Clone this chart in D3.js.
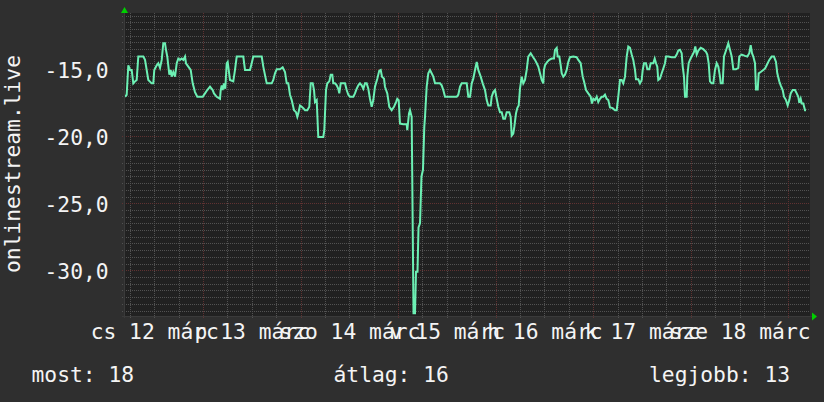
<!DOCTYPE html>
<html><head><meta charset="utf-8">
<script src="https://cdn.jsdelivr.net/npm/d3@7"></script>
<style>
html,body{margin:0;padding:0;background:#2f2f2f;}
svg{display:block;}
text{font-family:"DejaVu Sans Mono",monospace;fill:#f4f4f4;}
</style></head><body>
<svg id="chart" width="824" height="402"></svg>
<script>
// hours since 2020-03-12 00:00 (UTC)
const hours = [
4.81,5.22,5.62,6.04,6.45,6.85,7.27,7.68,8.08,9.31,9.73,10.54,11.37,11.77,12.01,12.61,13.00,13.42,13.84,14.23,
14.65,14.89,15.21,15.71,16.05,16.30,16.69,17.11,17.53,17.92,18.34,18.76,19.15,19.57,19.81,20.38,20.97,21.46,22.03,22.59,
23.92,24.49,25.05,25.72,26.38,26.70,27.37,28.18,28.35,28.60,28.84,29.16,29.48,29.83,30.07,30.32,30.64,31.45,31.87,32.29,
33.91,34.33,35.56,35.98,36.37,38.44,38.83,39.67,40.90,41.29,41.71,42.13,42.94,43.60,44.17,44.59,44.98,45.40,45.82,46.39,
46.88,47.20,47.44,47.86,48.28,48.67,49.09,49.66,50.15,50.49,50.99,51.31,51.55,51.97,52.36,53.59,53.84,54.26,54.58,55.07,
55.42,55.81,56.05,56.47,56.89,57.28,57.53,57.88,58.93,59.35,59.75,60.16,60.98,61.39,61.81,62.21,62.62,63.04,63.44,63.85,
64.27,64.67,65.08,65.50,65.90,66.31,66.88,67.37,67.72,68.04,68.53,68.77,69.34,69.83,70.42,70.99,71.48,71.80,72.14,72.46,
73.28,74.11,74.26,74.68,74.93,75.34,75.79,76.16,76.40,76.77,77.02,77.39,77.75,78.12,78.44,78.62,79.03,79.43,79.85,80.66,
81.08,82.31,82.72,83.12,83.54,86.41,86.81,87.23,87.65,88.46,88.88,89.27,89.69,90.11,90.50,90.92,91.34,91.73,92.32,92.81,
93.38,93.80,94.19,94.78,95.03,95.42,95.84,96.26,96.65,97.07,97.49,97.88,98.30,98.72,99.36,99.70,99.95,100.34,100.59,101.00,
101.32,101.67,101.99,102.41,102.80,103.22,103.64,104.03,104.62,105.11,105.68,106.10,106.49,106.91,107.33,107.72,107.89,108.14,108.70,109.20,
109.79,110.35,110.60,111.02,111.26,111.66,112.00,112.25,112.64,113.06,113.48,113.87,114.29,115.10,115.94,116.33,116.92,117.41,117.73,118.23,
118.79,119.38,119.70,120.02,120.44,120.86,121.25,121.67,122.09,122.48,122.90,123.32,123.71,124.13,124.79,125.36,125.78,126.17,126.59,127.01,
127.40,127.82,128.24,128.63,129.05,129.47,129.86,130.28,130.53,131.09,131.51,131.93,132.18,132.50,132.99,133.31,133.80,134.14,134.78,135.13,
135.45,135.77,136.01,136.43,136.85,137.24,137.66,137.91,138.47,139.31,140.12,140.54,140.93,141.35,141.77,142.02,142.34,142.58,143.00,143.15,
143.49,143.81,144.23,144.80,145.12,145.46,145.86,146.45,147.09,147.75,148.07,148.41,148.73,149.15,149.55,149.96,150.38,150.78,151.19,151.37,
151.86,152.18,152.67,153.24,153.65,154.07,154.47,155.13,155.70,155.94,156.53,157.35,157.91,158.40,158.75,159.07,159.39,159.81,160.05,160.47,
160.72,161.21,161.85,162.27,162.68,163.32,163.92,164.48,164.97,165.29,165.78,166.13,166.62,166.94,167.43,167.85,168.25,168.59,169.08,169.65,
170.07,170.46,170.71,171.05,171.30,171.69,172.11,172.35
];
const values = [
-17.05,-16.9,-14.7,-15.05,-15.05,-16.05,-15.9,-15.8,-14.05,-14.05,-14.3,-15.8,-16.05,-16.05,-15.05,-14.7,-14.55,-14.9,-14.3,-13.05,
-13.05,-13.55,-14.05,-15.4,-15.05,-15.55,-15.2,-15.55,-14.55,-14.2,-14.3,-14.2,-14.3,-14.05,-14.55,-14.8,-15.05,-16.05,-16.7,-17.05,
-17.05,-16.8,-16.55,-16.3,-16.55,-16.8,-17.05,-17.2,-16.55,-16.2,-16.55,-16.05,-16.45,-14.55,-14.45,-15.05,-15.8,-15.9,-15.05,-14.05,
-14.05,-15.05,-15.05,-14.55,-14.05,-14.05,-14.8,-16.05,-16.05,-15.8,-15.3,-15.0,-15.0,-14.85,-15.2,-16.05,-16.05,-16.9,-17.3,-18.05,
-18.2,-18.55,-18.3,-17.7,-17.8,-17.9,-18.05,-18.05,-17.8,-16.05,-16.05,-16.55,-17.45,-17.3,-20.05,-20.05,-19.55,-16.55,-16.05,-15.9,
-15.4,-15.4,-16.05,-16.05,-16.2,-16.45,-16.8,-16.05,-16.05,-16.55,-16.9,-17.05,-17.05,-16.8,-16.45,-16.2,-16.05,-16.2,-16.45,-16.05,
-16.05,-16.45,-17.2,-17.8,-17.3,-16.3,-15.7,-15.1,-15.05,-15.55,-15.7,-16.3,-16.8,-17.8,-18.05,-17.8,-17.45,-17.2,-17.3,-19.05,
-19.1,-19.1,-19.55,-18.3,-18.05,-18.55,-33.2,-33.2,-30.1,-30.1,-26.8,-26.5,-23.0,-22.5,-19.3,-18.55,-16.3,-15.3,-15.05,-15.55,
-16.05,-16.05,-16.2,-16.55,-17.05,-17.05,-16.9,-16.3,-16.05,-16.05,-16.05,-17.05,-17.05,-16.05,-15.7,-15.05,-14.45,-15.05,-15.55,-16.05,
-16.55,-17.3,-17.7,-17.7,-17.05,-16.7,-16.55,-17.2,-17.8,-18.2,-18.2,-18.7,-18.7,-18.2,-18.2,-18.55,-19.95,-19.8,-19.3,-18.3,
-17.9,-17.7,-16.45,-15.55,-16.05,-15.8,-15.05,-14.05,-13.8,-14.05,-14.3,-14.55,-14.8,-15.3,-15.8,-16.05,-15.05,-14.7,-14.45,-14.3,
-14.2,-14.2,-13.55,-13.4,-14.05,-14.05,-14.7,-15.3,-15.55,-15.4,-15.05,-14.45,-14.1,-14.05,-14.1,-14.3,-14.55,-15.55,-15.9,-16.55,
-16.8,-17.05,-17.55,-17.2,-17.3,-17.05,-17.45,-17.2,-17.05,-17.05,-16.9,-17.2,-17.3,-17.85,-17.9,-18.05,-18.05,-17.05,-15.8,-15.8,
-16.05,-15.55,-14.05,-13.3,-13.4,-13.9,-14.3,-15.05,-15.75,-15.75,-16.05,-15.8,-15.05,-14.55,-14.55,-15.0,-15.0,-14.55,-14.55,-14.2,
-14.55,-14.8,-15.8,-15.7,-15.3,-14.95,-14.55,-14.05,-14.05,-14.1,-14.1,-13.9,-13.6,-13.55,-13.8,-14.8,-15.55,-17.05,-17.05,-15.55,
-14.55,-14.3,-14.05,-13.7,-13.3,-13.9,-13.6,-13.4,-13.5,-13.7,-13.9,-14.55,-15.9,-16.05,-16.05,-15.05,-14.55,-14.8,-15.55,-16.05,
-16.05,-14.05,-13.6,-13.05,-13.55,-14.05,-15.0,-15.0,-14.9,-14.05,-13.9,-14.0,-14.05,-13.8,-13.2,-13.8,-14.05,-14.55,-16.5,-16.5,
-15.3,-15.2,-15.05,-14.95,-14.7,-14.3,-14.05,-14.05,-14.45,-15.3,-15.9,-16.2,-16.55,-17.05,-17.3,-17.7,-17.3,-16.8,-16.55,-16.55,
-16.8,-17.05,-17.5,-17.2,-17.55,-17.55,-18.05,-18.05
];
const yLabelTicks = [-30, -25, -20, -15];
const dayLabels = ["cs 12 márc", "p 13 márc", "szo 14 márc", "v 15 márc", "h 16 márc", "k 17 márc", "sze 18 márc"];
const dayNumbers = [12, 13, 14, 15, 16, 17, 18];
const legendTexts = ["most: 18", "átlag: 16", "legjobb: 13"];
const axisTitle = "onlinestream.live";

const FS = "21.3px";
const svg = d3.select("#chart");
const W = 824, Hh = 402;
const L = 124, R = 810, T = 13, B = 316;
const t0 = Date.UTC(2020, 2, 12);
const HR = 3600e3;
const start = new Date(t0 + 4.56 * HR), end = new Date(t0 + 173.34 * HR);

const x = d3.scaleUtc().domain([start, end]).range([L, R]);
const y = d3.scaleLinear().domain([-33.41, -10.80]).range([B, T]);

svg.append("rect").attr("width", W).attr("height", Hh).attr("fill", "#2f2f2f");
svg.append("rect").attr("x", L).attr("y", T).attr("width", R - L).attr("height", B - T).attr("fill", "#212121");

const grid = svg.append("g").attr("shape-rendering", "crispEdges");
// minor horizontal grid
const minorY = d3.range(-33, -10.8, 0.5).filter(v => v % 5 !== 0);
grid.selectAll(".hy").data(minorY).join("line")
  .attr("x1", L - 2).attr("x2", R)
  .attr("y1", d => Math.round(y(d)) + 0.5).attr("y2", d => Math.round(y(d)) + 0.5)
  .attr("stroke", "#525252").attr("stroke-dasharray", "1,1");
// minor vertical grid
const minorX = d3.utcHour.every(6).range(start, end).filter(d => d.getUTCHours() !== 0);
grid.selectAll(".vx").data(minorX).join("line")
  .attr("y1", T).attr("y2", B + 2)
  .attr("x1", d => Math.round(x(d)) + 0.5).attr("x2", d => Math.round(x(d)) + 0.5)
  .attr("stroke", "#525252").attr("stroke-dasharray", "1,1");
// major grid
const majorY = d3.range(-30, -10.8, 5);
grid.selectAll(".HY").data(majorY).join("line")
  .attr("x1", L - 2).attr("x2", R)
  .attr("y1", d => Math.round(y(d)) + 0.5).attr("y2", d => Math.round(y(d)) + 0.5)
  .attr("stroke", "#603232").attr("stroke-dasharray", "1,1");
const majorX = d3.utcDay.range(start, end);
grid.selectAll(".VX").data(majorX).join("line")
  .attr("y1", T).attr("y2", B + 3)
  .attr("x1", d => Math.round(x(d)) + 0.5).attr("x2", d => Math.round(x(d)) + 0.5)
  .attr("stroke", "#603232").attr("stroke-dasharray", "1,1");

// data line
const pts = hours.map((h, i) => [new Date(t0 + h * HR), values[i]]);
svg.append("path").datum(pts)
  .attr("fill", "none").attr("stroke", "#6cf0b4").attr("stroke-width", 2)
  .attr("stroke-linejoin", "miter")
  .attr("d", d3.line().x(d => x(d[0])).y(d => y(d[1])));

// axis lines
svg.append("line").attr("x1", L + 0.5).attr("x2", L + 0.5).attr("y1", T - 2).attr("y2", B + 2)
  .attr("stroke", "#3a3a3a").attr("shape-rendering", "crispEdges");
svg.append("line").attr("x1", L - 2).attr("x2", R + 2).attr("y1", B + 0.5).attr("y2", B + 0.5)
  .attr("stroke", "#3a3a3a").attr("shape-rendering", "crispEdges");
// arrows
svg.append("path").attr("d", `M${L - 3},${T} L${L + 0.5},${T - 6} L${L + 4},${T} Z`).attr("fill", "#00d000");
svg.append("path").attr("d", `M${R + 2},${B - 3.5} L${R + 7},${B + 0.5} L${R + 2},${B + 4.5} Z`).attr("fill", "#00d000");

// y axis labels
const hu = d3.formatLocale({decimal: ",", thousands: " ", grouping: [3], currency: ["", " Ft"], minus: "-"});
const yAxis = d3.axisLeft(y).tickValues(yLabelTicks).tickSize(0).tickPadding(0).tickFormat(hu.format(".1f"));
const gy = svg.append("g").attr("transform", `translate(108.6,0)`).call(yAxis);
gy.select(".domain").remove();
gy.selectAll("text").attr("dy", "0.375em").style("font-size", FS).attr("fill", "#f4f4f4")
  .style("font-family", "'DejaVu Sans Mono', monospace");

// x axis day labels (centred at noon)
const noons = dayNumbers.map(d => new Date(Date.UTC(2020, 2, d, 12)));
const xAxis = d3.axisBottom(x).tickValues(noons).tickSize(0).tickPadding(0)
  .tickFormat((d, i) => dayLabels[i]);
const gx = svg.append("g").call(xAxis);
gx.select(".domain").remove();
gx.selectAll("text").attr("y", 339.3).attr("dy", null).style("font-size", FS).attr("fill", "#f4f4f4")
  .style("font-family", "'DejaVu Sans Mono', monospace");

// axis title
svg.append("text").attr("transform", "translate(19.5,164) rotate(-90)")
  .attr("text-anchor", "middle").style("font-size", FS).text(axisTitle);

// legend
const legendX = [31.5, 333.5, 649];
svg.selectAll(".leg").data(legendTexts).join("text")
  .attr("x", (d, i) => legendX[i]).attr("y", 381.5).style("font-size", FS).text(d => d);
</script>
</body></html>
